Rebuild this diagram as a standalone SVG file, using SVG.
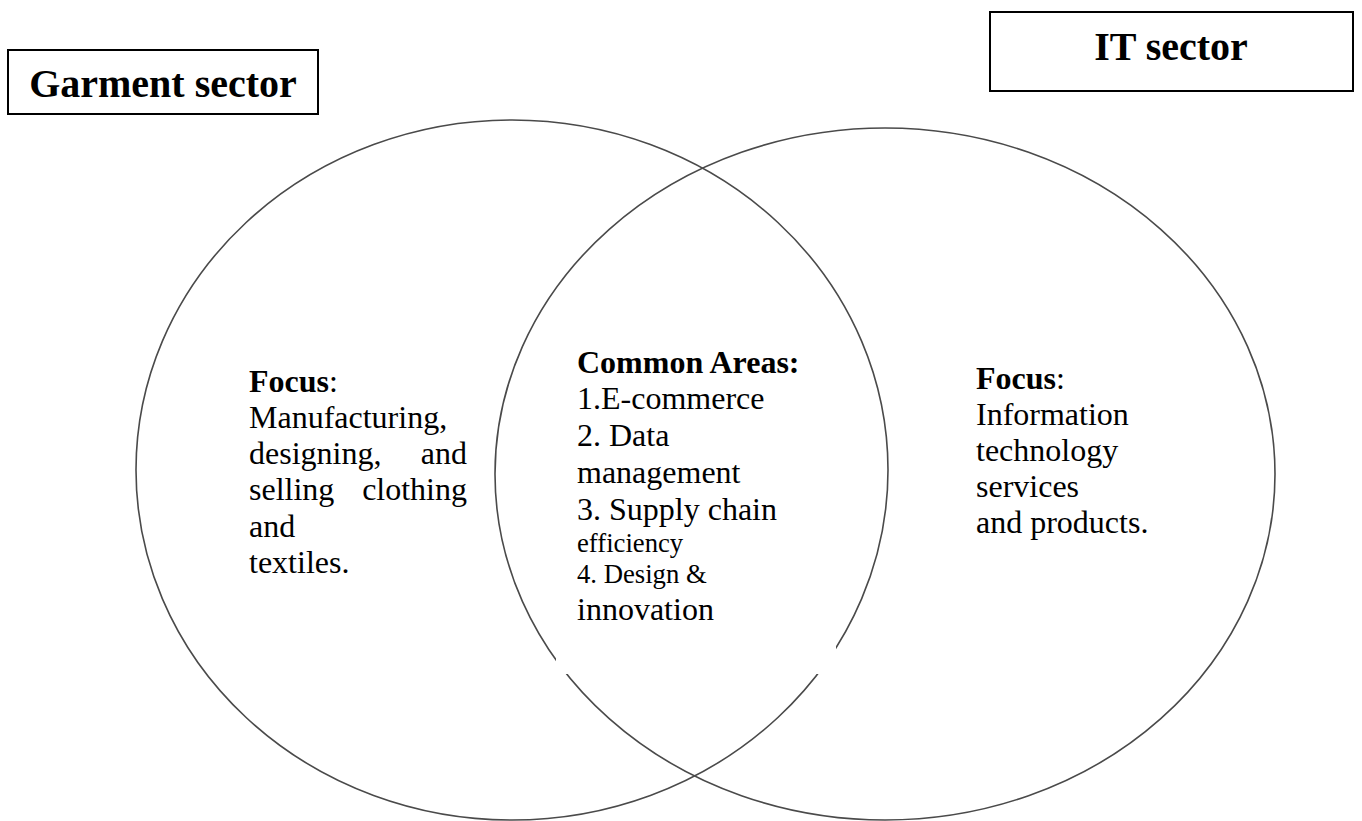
<svg xmlns="http://www.w3.org/2000/svg" width="1362" height="821" viewBox="0 0 1362 821">
<style>
.ring{fill:none;stroke:#4a4a4a;stroke-width:1.6}
.box{fill:#fff;stroke:#000;stroke-width:2}
.t{font-family:"Liberation Serif","Times New Roman",serif;fill:#000}
.title{font-size:40px;font-weight:bold}
.body{font-size:32px}
.small{font-size:26.7px}
.b{font-weight:bold}
</style>
<rect width="1362" height="821" fill="#fff"/>
<g id="circles">
<ellipse id="garment-circle" class="ring" cx="512" cy="470" rx="376" ry="350"/>
<ellipse id="it-circle" class="ring" cx="885" cy="474" rx="390" ry="346"/>
<rect x="556" y="395" width="280" height="279" fill="#fff"/>
</g>
<g id="garment-label">
<rect class="box" x="8" y="50" width="310" height="64"/>
<text class="t title" x="163" y="97" text-anchor="middle">Garment sector</text>
</g>
<g id="it-label">
<rect class="box" x="990" y="12" width="363" height="79"/>
<text class="t title" x="1171" y="60" text-anchor="middle">IT sector</text>
</g>
<g id="garment-focus" class="t body">
<text x="249" y="392"><tspan class="b">Focus</tspan>:</text>
<text x="249" y="428">Manufacturing,</text>
<text x="249" y="464">designing,</text>
<text x="467" y="464" text-anchor="end">and</text>
<text x="249" y="500">selling</text>
<text x="467" y="500" text-anchor="end">clothing</text>
<text x="249" y="537">and</text>
<text x="249" y="573">textiles.</text>
</g>
<g id="common-areas" class="t body">
<text x="577" y="373" class="b">Common Areas:</text>
<text x="577" y="409">1.E-commerce</text>
<text x="577" y="446">2. Data</text>
<text x="577" y="483">management</text>
<text x="577" y="520">3. Supply chain</text>
<text x="577" y="552" class="small">efficiency</text>
<text x="577" y="583" class="small">4. Design &amp;</text>
<text x="577" y="620">innovation</text>
</g>
<g id="it-focus" class="t body">
<text x="976" y="389"><tspan class="b">Focus</tspan>:</text>
<text x="976" y="425">Information</text>
<text x="976" y="461">technology</text>
<text x="976" y="497">services</text>
<text x="976" y="533">and products.</text>
</g>
<g id="connectors"></g>
</svg>
